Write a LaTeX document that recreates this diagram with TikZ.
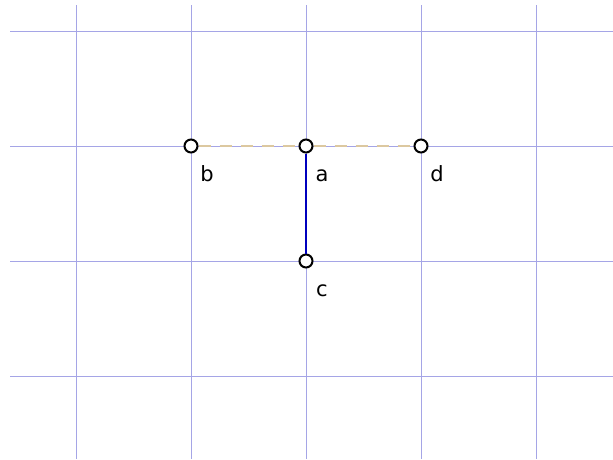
\documentclass[tikz,border=0pt]{standalone}
\usepackage{fontspec}
\setmainfont{DejaVu Sans}
\definecolor{gridc}{RGB}{165,165,230}
\definecolor{dashc}{RGB}{220,200,160}
\definecolor{bluec}{RGB}{0,0,190}
\tikzset{
  gridline/.style={draw=gridc, line width=1pt},
  pt/.style={circle, draw=black, fill=white, line width=2pt, minimum size=13pt, inner sep=0pt},
  lbl/.style={font=\fontsize{21}{24}\selectfont, anchor=base, inner sep=0pt},
  dashline/.style={dashc, line width=2pt, dash pattern=on 12pt off 9pt},
}
\begin{document}
\begin{tikzpicture}[x=1pt,y=-1pt]
\useasboundingbox (0,0) rectangle (613,459);
\foreach \x in {76,191,306,421,536} \draw[gridline] (\x,5) -- (\x,459);
\foreach \y in {31,146,261,376} \draw[gridline] (10,\y) -- (613,\y);
\node[pt] (b) at (191,146) {};
\node[pt] (a) at (306,146) {};
\node[pt] (d) at (421,146) {};
\node[pt] (c) at (306,261) {};
\draw[dashline] (b) -- (a);
\draw[dashline] (a) -- (d);
\draw[bluec, line width=2pt] (a) -- (c);
\node[lbl] (lb) at (207,181) {b};
\node[lbl] (la) at (322,181) {a};
\node[lbl] (ld) at (437,181) {d};
\node[lbl] (lc) at (322,296) {c};
\end{tikzpicture}
\end{document}
